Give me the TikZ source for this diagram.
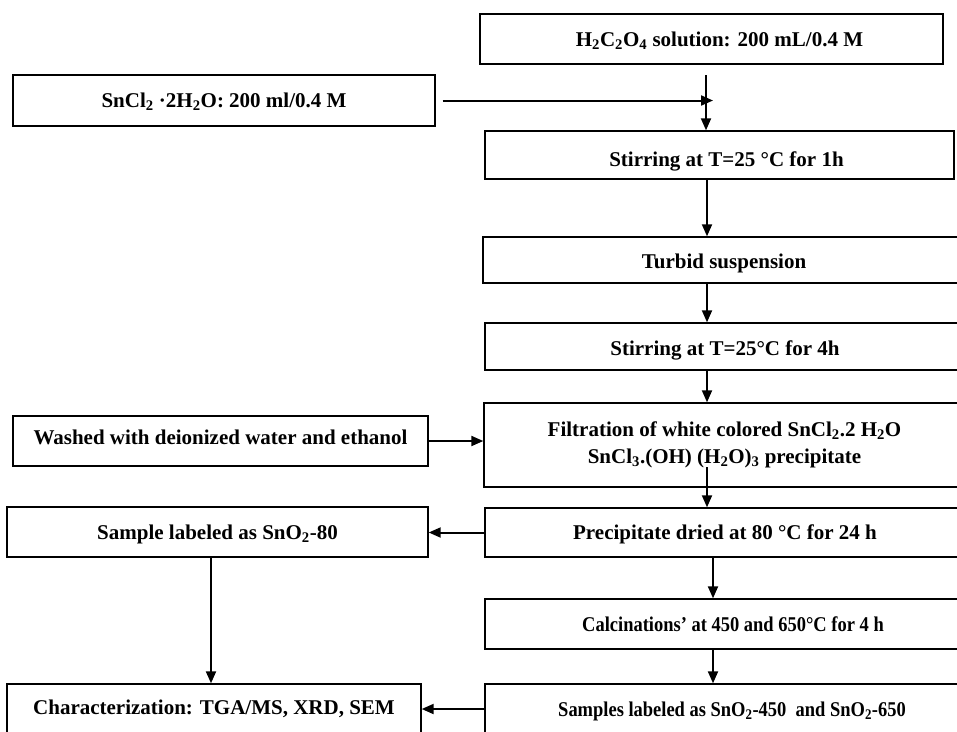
\documentclass[tikz,border=0pt]{standalone}
\usepackage{fontspec}
\setmainfont{Liberation Serif}
\usepackage{graphicx}
\usepackage{tikz}
\usetikzlibrary{arrows.meta}
\tikzset{
    stepbox/.style={draw,rectangle,line width=1.4pt,inner sep=0pt,align=center,
        text height=14pt,text depth=0pt,
        font=\fontsize{21}{27}\selectfont\bfseries},
    flow/.style={line width=2pt,-{Triangle[length=12pt,width=10pt]}}
}
\newcommand{\chem}[1]{\textsubscript{#1}}
\newcommand{\narrow}[1]{\scalebox{0.88}[1]{#1}}

\begin{document}
\begin{tikzpicture}[x=1pt,y=-1pt]
        \useasboundingbox (0,0) rectangle (957,731);
        \coordinate (v1) at (711.5,39);
        \coordinate (v2) at (224,100.5);
        \coordinate (v3) at (719.5,155);
        \coordinate (v4) at (724,260);
        \coordinate (v5) at (725,346.5);
        \coordinate (v6) at (724.5,445);
        \coordinate (v7) at (220.5,441);
        \coordinate (v8) at (725,532.5);
        \coordinate (v9) at (217.5,532);
        \coordinate (v10) at (725,624);
        \coordinate (v11) at (725,709);
        \coordinate (v12) at (214,709);

        % columns and free ends of the connectors
        \coordinate (Drop) at (706,75);
        \coordinate (Join) at (713,101);
        \coordinate (ColMid) at (707,0);
        \coordinate (FilterOut) at (707,467);
        \coordinate (ColLow) at (713,0);
        \coordinate (ColLeft) at (211,0);

        \node[stepbox,minimum width=463pt,minimum height=50pt] (Oxalic) at (v1) {\hspace*{16pt}H\chem{2}C\chem{2}O\chem{4} solution: 200 mL/0.4 M};
		\node[stepbox,minimum width=422pt,minimum height=51pt] (Tin) at (v2) {SnCl\chem{2} {\textperiodcentered}2H\chem{2}O: 200 ml/0.4 M};
		\node[stepbox,minimum width=469pt,minimum height=48pt,text height=22pt] (StirA) at (v3) {\hspace*{14pt}Stirring at T=25 °C for 1h};
		\node[stepbox,minimum width=482pt,minimum height=46pt,text height=16pt] (Turbid) at (v4) {Turbid suspension};
		\node[stepbox,minimum width=480pt,minimum height=47pt,text height=18pt] (StirB) at (v5) {Stirring at T=25°C for 4h};
		\node[stepbox,minimum width=481pt,minimum height=84pt,text height={},text depth={}] (Filter) at (v6) {Filtration of white colored SnCl\chem{2}.2 H\chem{2}O\\SnCl\chem{3}.(OH) (H\chem{2}O)\chem{3} precipitate};
		\node[stepbox,minimum width=415pt,minimum height=50pt,text height=10pt,text depth=4pt] (Wash) at (v7) {Washed with deionized water and ethanol};
		\node[stepbox,minimum width=480pt,minimum height=49pt] (Dry) at (v8) {Precipitate dried at 80 °C for 24 h};
		\node[stepbox,minimum width=421pt,minimum height=50pt] (SampleA) at (v9) {Sample labeled as SnO\chem{2}-80};
		\node[stepbox,minimum width=480pt,minimum height=50pt] (Calc) at (v10) {\hspace*{16pt}\narrow{Calcinations’ at 450 and 650°C for 4 h}};
		\node[stepbox,minimum width=480pt,minimum height=50pt] (SampleB) at (v11) {\hspace*{14pt}\narrow{Samples labeled as SnO\chem{2}-450\ \ and SnO\chem{2}-650}};
		\node[stepbox,minimum width=414pt,minimum height=50pt,text height=11pt] (Charac) at (v12) {Characterization: TGA/MS, XRD, SEM};

        \draw[flow] (Drop) -- (Drop |- StirA.north);
        \draw[flow] ([xshift=7pt]Tin.east) -- (Tin.east -| Join);
        \draw[flow] (StirA.south -| ColMid) -- (Turbid.north -| ColMid);
        \draw[flow] (Turbid.south -| ColMid) -- (StirB.north -| ColMid);
        \draw[flow] (StirB.south -| ColMid) -- (Filter.north -| ColMid);
        \draw[flow] (Wash.east) -- (Wash.east -| Filter.west);
        \draw[flow] (FilterOut) -- (FilterOut |- Dry.north);
        \draw[flow] (Dry.west) -- (Dry.west -| SampleA.east);
        \draw[flow] (Dry.south -| ColLow) -- (Calc.north -| ColLow);
        \draw[flow] (Calc.south -| ColLow) -- (SampleB.north -| ColLow);
        \draw[flow] (SampleA.south -| ColLeft) -- (Charac.north -| ColLeft);
        \draw[flow] (SampleB.west) -- (SampleB.west -| Charac.east);
    \end{tikzpicture}
\end{document}
